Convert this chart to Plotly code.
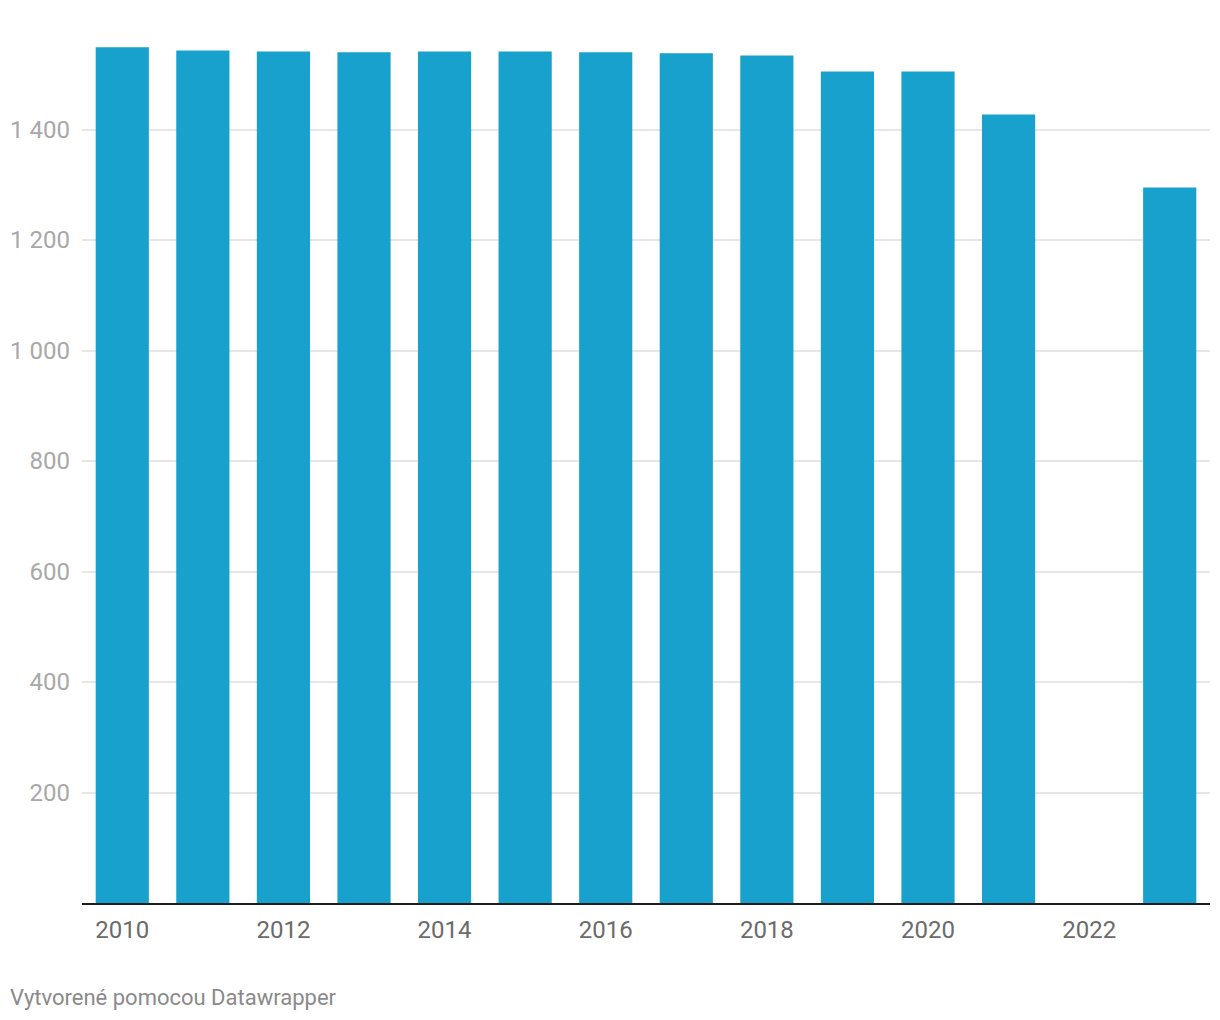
import plotly.graph_objects as go

years = list(range(2010, 2024))
values = [1549, 1543, 1541, 1540, 1541, 1541, 1540, 1538, 1534, 1505, 1505, 1427, None, 1295]
y_tickvals = [200, 400, 600, 800, 1000, 1200, 1400]
y_ticktext = ["200", "400", "600", "800", "1 000", "1 200", "1 400"]
x_tickvals = [2010, 2012, 2014, 2016, 2018, 2020, 2022]
footer = "Vytvorené pomocou Datawrapper"

OFF = 8  # page body margin
W, H = 1220 - 2 * OFF, 1020 - 2 * OFF
ml = 82 - OFF
mr = W - (1210 - OFF)
mt = 19 - OFF
mb = H - (903 - OFF)
pw = W - ml - mr
ph = H - mt - mb

fig = go.Figure()
fig.add_trace(go.Bar(x=years, y=values, marker=dict(color="#18a1cd", line=dict(width=0)),
                     hoverinfo="x+y"))

fig.update_layout(
    width=W, height=H,
    margin=dict(l=ml, r=mr, t=mt, b=mb, pad=0),
    paper_bgcolor="white", plot_bgcolor="white",
    bargap=0.34,
    showlegend=False,
    font=dict(family="Roboto", size=24),
    xaxis=dict(range=[2009.5, 2023.5], tickvals=x_tickvals, ticks="",
               showgrid=False, zeroline=False,
               showline=True, linecolor="#1d1d1d", linewidth=2,
               tickfont=dict(color="#6b6b6b", size=24, family="Roboto"),
               ticklabelstandoff=4),
    yaxis=dict(range=[0, 1600], tickvals=y_tickvals, ticktext=y_ticktext,
               showgrid=True, gridcolor="#e6e6e6", gridwidth=2,
               zeroline=False, ticks="",
               tickfont=dict(color="#a8a8a8", size=24, family="Roboto"),
               ticklabelstandoff=11),
    annotations=[dict(text=footer, xref="paper", yref="paper",
                      x=(8 - 82) / pw, y=-(997 - 903) / ph,
                      xanchor="left", yanchor="middle", showarrow=False,
                      font=dict(color="#8a8a8a", size=22, family="Roboto"))],
)

fig.write_html("out.html")
